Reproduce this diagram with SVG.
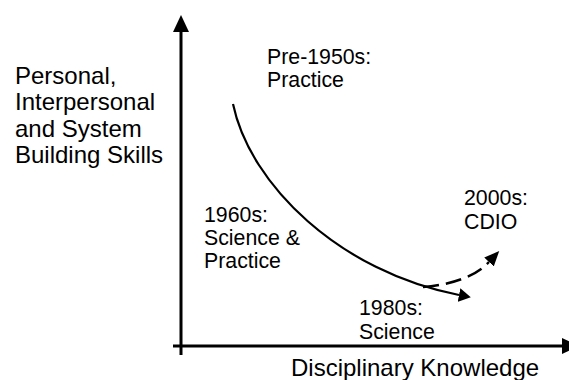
<svg xmlns="http://www.w3.org/2000/svg" width="569" height="380" viewBox="0 0 569 380">
<style>
text{font-family:"Liberation Sans",Arial,sans-serif;fill:#000}
.big{font-size:24px}
.era{font-size:21.3px}
.ax{stroke:#000;stroke-width:3;fill:none}
.cv{stroke:#000;stroke-width:2.2;fill:none}
.ds{stroke:#000;stroke-width:2.5;fill:none;stroke-dasharray:16 7}
</style>
<defs>
<marker id="ah" viewBox="0 0 12 14" refX="0" refY="7" markerWidth="12" markerHeight="14" markerUnits="userSpaceOnUse" orient="auto">
<path d="M0,0 L12,7 L0,14 Z" fill="#000"/>
</marker>
<marker id="ah2" viewBox="0 0 15 13" refX="0" refY="6.5" markerWidth="15" markerHeight="13" markerUnits="userSpaceOnUse" orient="auto">
<path d="M0,0 L15,6.5 L0,13 Z" fill="#000"/>
</marker>
</defs>
<g id="axes">
<line class="ax" x1="181" y1="355" x2="181" y2="31"/>
<polygon points="181,15 173,32 189,32" fill="#000"/>
<line class="ax" x1="173" y1="346" x2="562" y2="346"/>
<polygon points="579,346 562,338 562,354" fill="#000"/>
</g>
<g id="connectors">
<path class="cv" d="M233,104 C250,185 340,272 459,295" marker-end="url(#ah)"/>
<path class="ds" d="M423,287 C450,285 475,277 489,262" marker-end="url(#ah2)"/>
</g>
<g id="y-label" class="big"><text x="15" y="84">Personal,</text><text x="15" y="110">Interpersonal</text><text x="15" y="136.5">and System</text><text x="15" y="163">Building Skills</text></g>
<g id="x-label" class="big"><text x="291" y="376">Disciplinary Knowledge</text></g>
<g id="pre1950" class="era"><text x="267" y="64">Pre-1950s:</text><text x="267" y="87">Practice</text></g>
<g id="s1960" class="era"><text x="204" y="222">1960s:</text><text x="204" y="245">Science &amp;</text><text x="204" y="268">Practice</text></g>
<g id="s1980" class="era"><text x="359" y="315">1980s:</text><text x="359" y="339">Science</text></g>
<g id="s2000" class="era"><text x="464" y="205">2000s:</text><text x="464" y="229">CDIO</text></g>
</svg>
